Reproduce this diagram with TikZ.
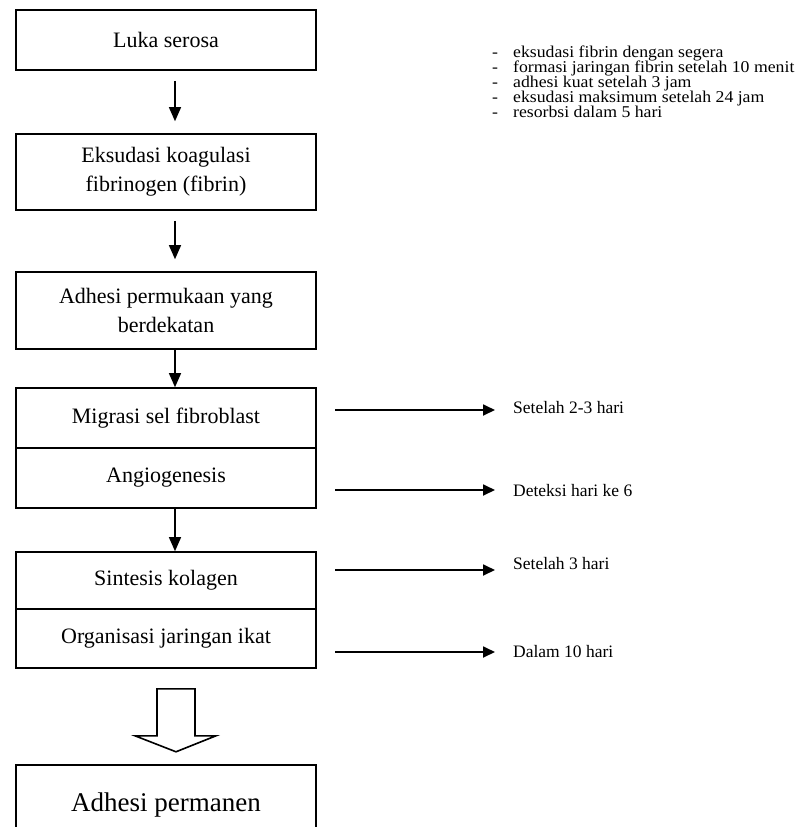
\documentclass[tikz,border=0pt]{standalone}
\usepackage{fontspec}
\usepackage{graphicx}
\setmainfont{Liberation Serif}
\usetikzlibrary{arrows.meta}
\newcommand{\notetext}[1]{\scalebox{1.075}[1]{\makebox[19.5pt][l]{-}#1}}
\begin{document}
\begin{tikzpicture}[x=1pt,y=-1pt,
  box/.style={draw,line width=1.6pt,minimum width=300pt,inner sep=0pt,align=center,
    font=\fontsize{22}{29}\selectfont},
  down/.style={line width=1.2pt,-{Triangle[length=14pt,width=12pt]}},
  side/.style={line width=1.8pt,-{Triangle[length=12pt,width=11pt]}},
  lbl/.style={anchor=base west,inner sep=0pt,font=\fontsize{17.5}{20}\selectfont},
  note/.style={anchor=base west,inner sep=0pt,font=\fontsize{16.5}{15}\selectfont}]
\useasboundingbox (0,0) rectangle (798,827);
\clip (0,0) rectangle (798,827);
\fill[white] (0,0) rectangle (798,827);
% main boxes
\node[box,minimum height=60pt] (b1) at (166,40) {Luka serosa};
\node[box,minimum height=76pt] (b2) at (166,172) {Eksudasi koagulasi\\fibrinogen (fibrin)};
\node[box,minimum height=77pt] (b3) at (166,310.5) {Adhesi permukaan yang\\berdekatan};
\node[box,minimum height=60pt] (b4a) at (166,418) {Migrasi sel fibroblast};
\node[box,minimum height=60pt] (b4b) at (166,478) {Angiogenesis};
\node[box,minimum height=57pt] (b5a) at (166,580.5) {Sintesis kolagen};
\node[box,minimum height=59pt] (b5b) at (166,638.5) {Organisasi jaringan ikat};
\node[box,minimum height=100pt,text height=20pt,text depth=28pt,
  font=\fontsize{27}{32}\selectfont] (b6) at (166,815) {Adhesi permanen};
% down arrows
\draw[down,shorten <=10pt,shorten >=12pt] ([xshift=9pt]b1.south) -- ([xshift=9pt]b2.north);
\draw[down,shorten <=10pt,shorten >=12pt] ([xshift=9pt]b2.south) -- ([xshift=9pt]b3.north);
\draw[down] ([xshift=9pt]b3.south) -- ([xshift=9pt]b4a.north);
\draw[down] ([xshift=9pt]b4b.south) -- ([xshift=9pt]b5a.north);
% hollow arrow (yshift is upward on the page, so negative moves down)
\coordinate (h) at ([xshift=10pt,yshift=-20pt]b5b.south);
\draw[line width=1.6pt,line join=miter]
  ([xshift=-19pt]h) -- ([xshift=19pt]h) -- ([xshift=19pt,yshift=-47pt]h)
  -- ([xshift=40pt,yshift=-47pt]h) -- ([yshift=-63pt]h) -- ([xshift=-41pt,yshift=-47pt]h)
  -- ([xshift=-19pt,yshift=-47pt]h) -- cycle;
% notes at top right
\node[note] (n1) at (492,57) {\notetext{eksudasi fibrin dengan segera}};
\node[note] (n2) at (492,72) {\notetext{formasi jaringan fibrin setelah 10 menit}};
\node[note] (n3) at (492,87) {\notetext{adhesi kuat setelah 3 jam}};
\node[note] (n4) at (492,102) {\notetext{eksudasi maksimum setelah 24 jam}};
\node[note] (n5) at (492,117) {\notetext{resorbsi dalam 5 hari}};
% side arrows and labels
\coordinate (s1) at (335,410);
\coordinate (s2) at (335,490);
\coordinate (s3) at (335,570);
\coordinate (s4) at (335,652);
\node[lbl] (l1) at (513,413) {Setelah 2-3 hari};
\node[lbl] (l2) at (513,496) {Deteksi hari ke 6};
\node[lbl] (l3) at (513,569) {Setelah 3 hari};
\node[lbl] (l4) at (513,657) {Dalam 10 hari};
\draw[side,shorten >=18pt] (s1) -- (s1 -| l1.west);
\draw[side,shorten >=18pt] (s2) -- (s2 -| l2.west);
\draw[side,shorten >=18pt] (s3) -- (s3 -| l3.west);
\draw[side,shorten >=18pt] (s4) -- (s4 -| l4.west);
\end{tikzpicture}
\end{document}
